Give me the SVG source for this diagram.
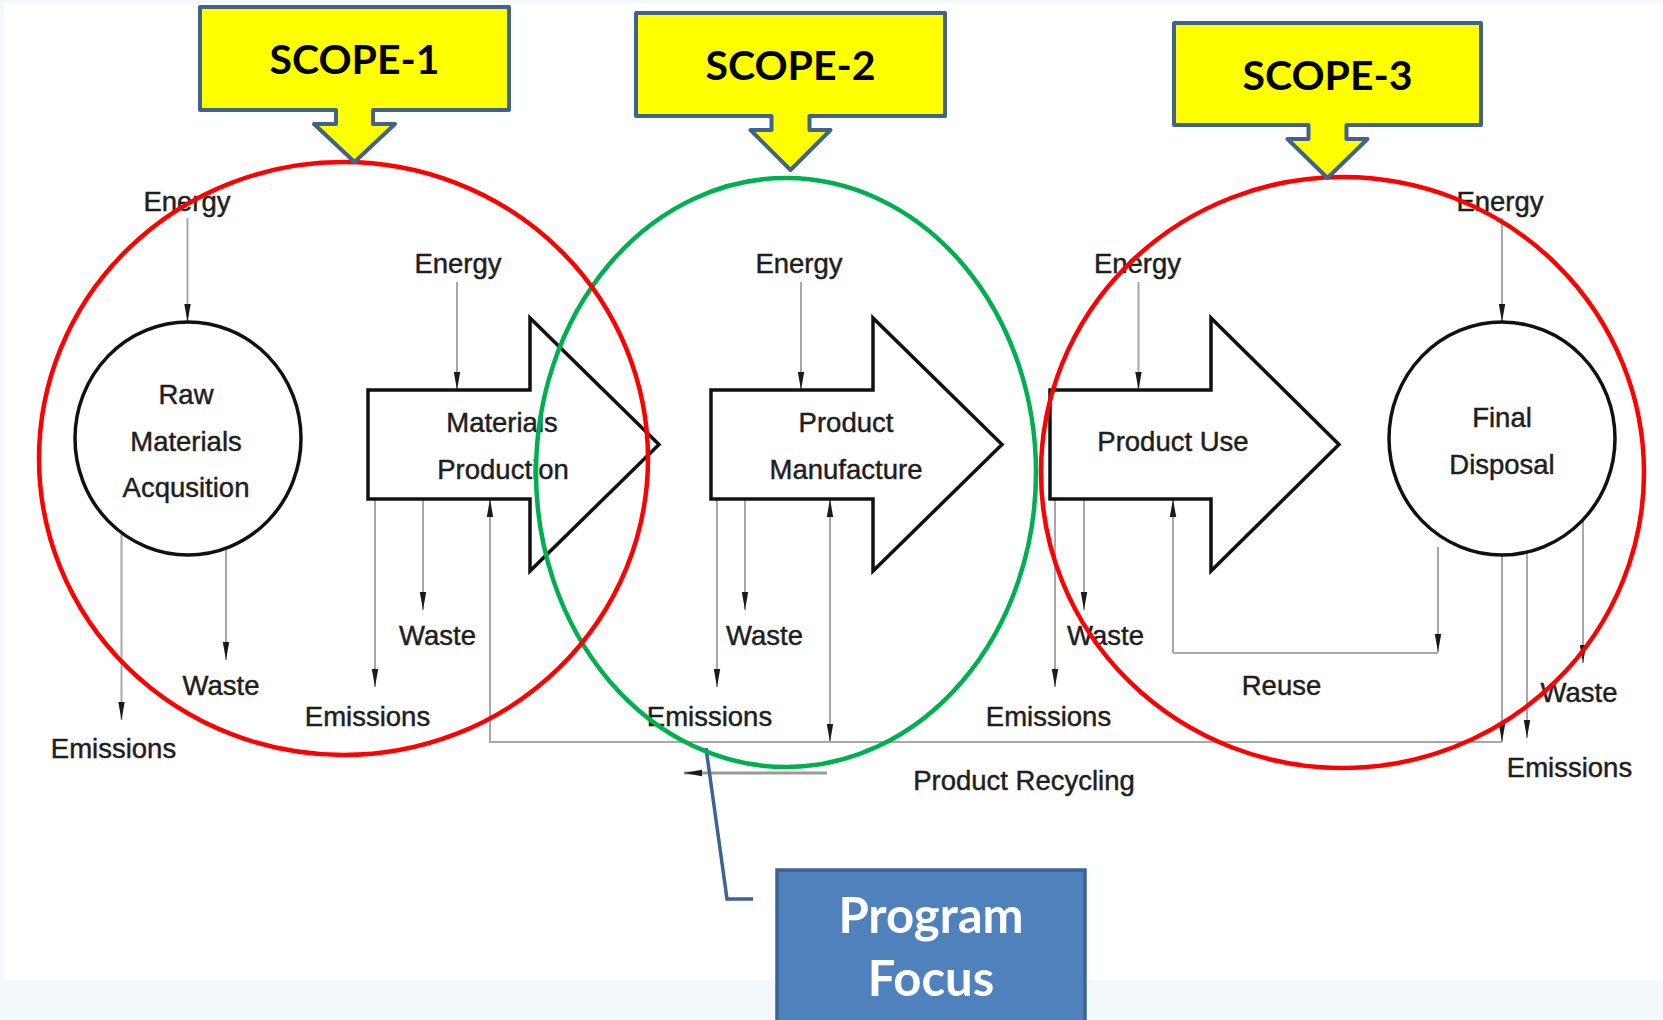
<svg xmlns="http://www.w3.org/2000/svg" width="1663" height="1020" viewBox="0 0 1663 1020">
<style>
.lbl{font-family:"Liberation Sans",Arial,sans-serif;font-size:27.5px;fill:#1e1e1e;stroke:#1e1e1e;stroke-width:0.45;text-anchor:middle}
.blk{fill:#fff;stroke:#111;stroke-width:3.5;stroke-linejoin:miter}
.ln{fill:none;stroke:#a8a8a8;stroke-width:2}
.scope{fill:#ffff00;stroke:#41618f;stroke-width:4;stroke-linejoin:round}
.stxt{font-family:Lato,"Open Sans",sans-serif;font-weight:700;font-size:41px;fill:#000;text-anchor:middle}
.ring{fill:none;stroke-width:4.5}
.pf{font-family:Lato,"Open Sans",sans-serif;font-weight:700;font-size:49px;fill:#fff;text-anchor:middle}
</style>
<defs>
<marker id="ah" viewBox="0 -4 18 8" refX="18" refY="0" markerWidth="18" markerHeight="8" markerUnits="userSpaceOnUse" orient="auto-start-reverse">
<path d="M0,-3.2 L18,0 L0,3.2 z" fill="#1a1a1a"/>
</marker>
</defs>
<rect x="0" y="0" width="1663" height="1020" fill="#f3f8fc"/>
<rect x="4" y="3" width="1659" height="977" fill="#ffffff"/>

<g id="connectors">
<path class="ln" d="M187.5,218 V322" marker-end="url(#ah)"/>
<path class="ln" d="M457,282 V390" marker-end="url(#ah)"/>
<path class="ln" d="M801,282 V390" marker-end="url(#ah)"/>
<path class="ln" d="M1138.5,282 V390" marker-end="url(#ah)"/>
<path class="ln" d="M1502,218 V322" marker-end="url(#ah)"/>
<path class="ln" d="M121.5,533 V720" marker-end="url(#ah)"/>
<path class="ln" d="M226,548 V660" marker-end="url(#ah)"/>
<path class="ln" d="M375,499 V687" marker-end="url(#ah)"/>
<path class="ln" d="M423,499 V610" marker-end="url(#ah)"/>
<path class="ln" d="M717,499 V687" marker-end="url(#ah)"/>
<path class="ln" d="M745,499 V610" marker-end="url(#ah)"/>
<path class="ln" d="M830,499 V742" marker-start="url(#ah)" marker-end="url(#ah)"/>
<path class="ln" d="M1055,499 V687" marker-end="url(#ah)"/>
<path class="ln" d="M1084,499 V610" marker-end="url(#ah)"/>
<path class="ln" d="M1173,653 H1438"/>
<path class="ln" d="M1438,547 V652" marker-end="url(#ah)"/>
<path class="ln" d="M1173,653 V499" marker-end="url(#ah)"/>
<path class="ln" d="M1502,556 V742" marker-end="url(#ah)"/>
<path class="ln" d="M1502,742 H490 V499" marker-end="url(#ah)"/>
<path class="ln" d="M1527,553 V738" marker-end="url(#ah)"/>
<path class="ln" d="M1583,520 V663" marker-end="url(#ah)"/>
<path d="M827,773 H684" fill="none" stroke="#9a9a9a" stroke-width="3" marker-end="url(#ah)"/>
<path d="M706,748 L727,899 H753" fill="none" stroke="#3c6393" stroke-width="3.5"/>
</g>

<g id="raw-materials">
<ellipse class="blk" cx="188" cy="438.5" rx="113" ry="116.5"/>
<text class="lbl" x="186" y="404">Raw</text>
<text class="lbl" x="186" y="450.5">Materials</text>
<text class="lbl" x="186" y="497">Acqusition</text>
</g>
<g id="materials-production">
<path class="blk" d="M368,390 H530 V318 L659,444.5 L530,571 V499 H368 Z"/>
<text class="lbl" x="502" y="432">Materials</text>
<text class="lbl" x="503" y="478.5">Production</text>
</g>
<g id="product-manufacture">
<path class="blk" d="M711,390 H873 V318 L1002,444.5 L873,571 V499 H711 Z"/>
<text class="lbl" x="846" y="432">Product</text>
<text class="lbl" x="846" y="478.5">Manufacture</text>
</g>
<g id="product-use">
<path class="blk" d="M1050,390 H1211 V318 L1339,444.5 L1211,571 V499 H1050 Z"/>
<text class="lbl" x="1173" y="450.5">Product Use</text>
</g>
<g id="final-disposal">
<ellipse class="blk" cx="1502" cy="438.5" rx="113" ry="116.5"/>
<text class="lbl" x="1502" y="427">Final</text>
<text class="lbl" x="1502" y="473.5">Disposal</text>
</g>

<g id="labels">
<text class="lbl" x="187" y="211">Energy</text>
<text class="lbl" x="458" y="273">Energy</text>
<text class="lbl" x="799" y="273">Energy</text>
<text class="lbl" x="1137.5" y="273">Energy</text>
<text class="lbl" x="1500" y="211">Energy</text>
<text class="lbl" x="113.5" y="758">Emissions</text>
<text class="lbl" x="221" y="695">Waste</text>
<text class="lbl" x="367.5" y="726">Emissions</text>
<text class="lbl" x="437.5" y="645">Waste</text>
<text class="lbl" x="709.5" y="726">Emissions</text>
<text class="lbl" x="764.5" y="645">Waste</text>
<text class="lbl" x="1048.5" y="726">Emissions</text>
<text class="lbl" x="1105.5" y="645">Waste</text>
<text class="lbl" x="1281.5" y="695">Reuse</text>
<text class="lbl" x="1579" y="702">Waste</text>
<text class="lbl" x="1569.5" y="777">Emissions</text>
<text class="lbl" x="1024" y="790">Product Recycling</text>
</g>

<g id="scope-rings">
<ellipse class="ring" stroke="#00b050" cx="786" cy="472.5" rx="250" ry="294.5"/>
<ellipse class="ring" stroke="#ff0000" cx="343.5" cy="458.5" rx="304.5" ry="296.5"/>
<ellipse class="ring" stroke="#ff0000" cx="1342.5" cy="472.5" rx="301.5" ry="295.5"/>
</g>

<g id="scope-1">
<path class="scope" d="M200,7 H509 V110 H373 V124 H395 L354.5,162 L314,124 H336 V110 H200 Z"/>
<text class="stxt" x="354.5" y="74">SCOPE-1</text>
</g>
<g id="scope-2">
<path class="scope" d="M636,13 H945 V116 H809.5 V130 H830.5 L790.5,170 L750.5,130 H771.5 V116 H636 Z"/>
<text class="stxt" x="790.5" y="80">SCOPE-2</text>
</g>
<g id="scope-3">
<path class="scope" d="M1174,23 H1481 V125 H1346.5 V139 H1367.5 L1327.5,178 L1287.5,139 H1308.5 V125 H1174 Z"/>
<text class="stxt" x="1327.5" y="90">SCOPE-3</text>
</g>

<g id="program-focus">
<rect x="777" y="870" width="308" height="165" fill="#4f81bd" stroke="#3c6393" stroke-width="3.5"/>
<text class="pf" x="931" y="933">Program</text>
<text class="pf" x="931" y="996">Focus</text>
</g>
</svg>
